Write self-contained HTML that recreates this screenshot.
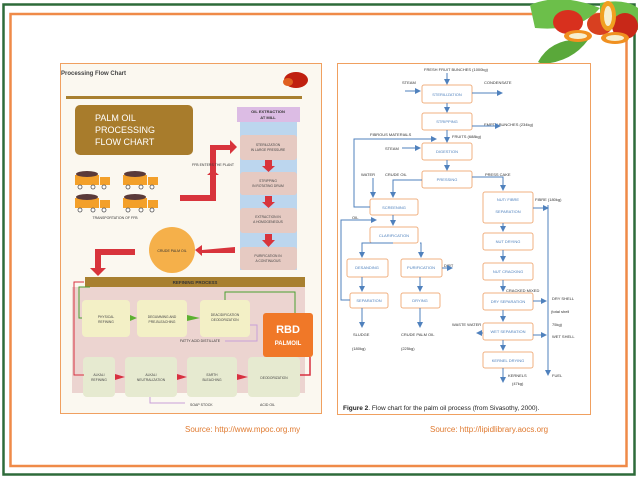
<!DOCTYPE html>
<html><head><meta charset="utf-8"><style>
html,body{margin:0;padding:0;background:#fff}
svg{display:block}
text{font-family:"Liberation Sans",sans-serif}
</style></head><body>
<svg width="638" height="479" viewBox="0 0 638 479" xmlns="http://www.w3.org/2000/svg">
<defs>
<marker id="ab" markerWidth="6" markerHeight="6" refX="5" refY="3" orient="auto"><path d="M0,0 L6,3 L0,6 z" fill="#4f81bd"/></marker>
</defs>
<rect x="3.5" y="4.5" width="631" height="470" fill="none" stroke="#2e6b3a" stroke-width="2.5"/>
<rect x="10.5" y="14" width="616" height="452" fill="none" stroke="#ef8a48" stroke-width="2.5"/>
<g>
<path d="M530 5 Q560 -8 600 8 Q580 32 535 28 z" fill="#6cbf4a"/>
<path d="M538 62 Q552 36 588 40 Q572 62 542 64 z" fill="#5aa83a"/>
<path d="M600 3 Q625 -2 638 8 L638 30 Q615 25 600 15 z" fill="#6cbf4a"/>
<ellipse cx="568" cy="22" rx="15" ry="12" fill="#d8301e"/>
<ellipse cx="600" cy="24" rx="13" ry="11" fill="#d84020"/>
<ellipse cx="625" cy="26" rx="13" ry="13" fill="#c82818"/>
<ellipse cx="608" cy="16" rx="8" ry="15" fill="#f0a020"/>
<ellipse cx="608" cy="16" rx="4" ry="10" fill="#f6efd0"/>
<ellipse cx="578" cy="36" rx="14" ry="6" fill="#f09020"/>
<ellipse cx="578" cy="36" rx="9" ry="3" fill="#f6efd0"/>
<ellipse cx="615" cy="38" rx="14" ry="6" fill="#f09020"/>
<ellipse cx="615" cy="38" rx="9" ry="3" fill="#f6efd0"/>
</g>

<!-- LEFT IMAGE -->
<rect x="60.5" y="63.5" width="261" height="350" fill="#fbf8f0" stroke="#f0a060" stroke-width="1"/>
<text x="61" y="75" font-size="6" font-family="Liberation Serif" font-weight="bold" fill="#444">Processing Flow Chart</text>
<ellipse cx="296" cy="80" rx="12" ry="8" fill="#c02010"/>
<ellipse cx="288" cy="82" rx="5" ry="4" fill="#e06020"/>
<rect x="66" y="96" width="236" height="3" fill="#a88030"/>
<rect x="75" y="105" width="118" height="50" rx="5" fill="#a87c2c"/>
<text x="95" y="121" font-size="9" fill="#fff">PALM OIL</text>
<text x="95" y="133" font-size="9" fill="#fff">PROCESSING</text>
<text x="95" y="145" font-size="9" fill="#fff">FLOW CHART</text>
<rect x="240" y="120" width="57" height="150" fill="#bcd6ee"/>
<rect x="237" y="107" width="63" height="15" fill="#dcbce4"/>
<text x="268" y="113" font-size="4" text-anchor="middle" font-weight="bold" fill="#333">OIL EXTRACTION</text>
<text x="268" y="119" font-size="4" text-anchor="middle" font-weight="bold" fill="#333">AT MILL</text>
<g fill="#e6cac2">
<rect x="240" y="135" width="57" height="25" rx="3"/>
<rect x="240" y="172" width="57" height="23" rx="3"/>
<rect x="240" y="208" width="57" height="25" rx="3"/>
<rect x="240" y="247" width="57" height="23" rx="3"/>
</g>
<g font-size="3.3" text-anchor="middle" fill="#444">
<text x="268" y="146">STERILIZATION</text><text x="268" y="151">IN LARGE PRESSURE</text>
<text x="268" y="182">STRIPPING</text><text x="268" y="187">IN ROTATING DRUM</text>
<text x="268" y="218">EXTRACTION IN</text><text x="268" y="223">A HOMOGENEOUS</text>
<text x="268" y="257">PURIFICATION IN</text><text x="268" y="262">A CONTINUOUS</text>
</g>
<g fill="#d8343c">
<rect x="265" y="160" width="7" height="6"/><path d="M262 166 L275 166 L268.5 172 z"/>
<rect x="265" y="196" width="7" height="6"/><path d="M262 202 L275 202 L268.5 208 z"/>
<rect x="265" y="234" width="7" height="7"/><path d="M262 240 L275 240 L268.5 247 z"/>
<path d="M180 195 L210 195 L210 175 L207 175 L213 170 L219 175 L216 175 L216 201 L180 201 z"/>
<path d="M210 150 L210 145 L230 145 L230 140 L237 147 L230 154 L230 150 z"/>
<rect x="210" y="145" width="6" height="30"/>
<path d="M202 250 L235 247 L235 253 L202 253 z"/>
<path d="M202 245 L195 250 L202 256 z"/>
<rect x="95" y="249" width="40" height="6"/>
<rect x="95" y="249" width="6" height="20"/>
<path d="M90 268 L106 268 L98 276 z"/>
</g>
<g fill="#f3a02a">
<rect x="75" y="175" width="24" height="10"/><rect x="100" y="177" width="10" height="8"/>
<rect x="123" y="175" width="24" height="10"/><rect x="148" y="177" width="10" height="8"/>
<rect x="75" y="198" width="24" height="10"/><rect x="100" y="200" width="10" height="8"/>
<rect x="123" y="198" width="24" height="10"/><rect x="148" y="200" width="10" height="8"/>
</g>
<g fill="#5a3a3a">
<ellipse cx="87" cy="174" rx="11" ry="3"/><ellipse cx="135" cy="174" rx="11" ry="3"/>
<ellipse cx="87" cy="197" rx="11" ry="3"/><ellipse cx="135" cy="197" rx="11" ry="3"/>
</g>
<g fill="#fff" stroke="#555" stroke-width="0.8">
<circle cx="80" cy="187" r="2"/><circle cx="93" cy="187" r="2"/><circle cx="104" cy="187" r="2"/>
<circle cx="128" cy="187" r="2"/><circle cx="141" cy="187" r="2"/><circle cx="152" cy="187" r="2"/>
<circle cx="80" cy="210" r="2"/><circle cx="93" cy="210" r="2"/><circle cx="104" cy="210" r="2"/>
<circle cx="128" cy="210" r="2"/><circle cx="141" cy="210" r="2"/><circle cx="152" cy="210" r="2"/>
</g>
<text x="115" y="219" font-size="3.5" text-anchor="middle" fill="#333">TRANSPORTATION OF FFB</text>
<text x="213" y="166" font-size="3.5" text-anchor="middle" fill="#333">FFB ENTERS THE PLANT</text>
<circle cx="172" cy="250" r="23" fill="#f5b04a"/>
<text x="172" y="252" font-size="3.5" text-anchor="middle" fill="#333">CRUDE PALM OIL</text>
<rect x="72" y="287" width="233" height="106" fill="#ecd4d0"/>
<rect x="85" y="277" width="220" height="10" fill="#a88030"/>
<text x="195" y="284" font-size="4.5" text-anchor="middle" font-weight="bold" fill="#333">REFINING PROCESS</text>
<g fill="#f3f0c6">
<rect x="82" y="300" width="48" height="37" rx="4"/>
<rect x="137" y="300" width="50" height="37" rx="4"/>
<rect x="200" y="300" width="50" height="37" rx="4"/>
</g>
<g fill="#e6ead0">
<rect x="83" y="357" width="32" height="40" rx="4"/>
<rect x="125" y="357" width="52" height="40" rx="4"/>
<rect x="187" y="357" width="50" height="40" rx="4"/>
<rect x="248" y="357" width="52" height="40" rx="4"/>
</g>
<g font-size="3.3" text-anchor="middle" fill="#444">
<text x="106" y="318">PHYSICAL</text><text x="106" y="323">REFINING</text>
<text x="162" y="318">DEGUMMING AND</text><text x="162" y="323">PRE-BLEACHING</text>
<text x="225" y="316">DEACIDIFICATION</text><text x="225" y="321">DEODORIZATION</text>
<text x="99" y="376">ALKALI</text><text x="99" y="381">REFINING</text>
<text x="151" y="376">ALKALI</text><text x="151" y="381">NEUTRALIZATION</text>
<text x="212" y="376">EARTH</text><text x="212" y="381">BLEACHING</text>
<text x="274" y="379">DEODORIZATION</text>
</g>
<rect x="263" y="313" width="50" height="44" rx="3" fill="#f07828"/>
<text x="288" y="333" font-size="11" font-weight="bold" text-anchor="middle" fill="#fff">RBD</text>
<text x="288" y="345" font-size="6" font-weight="bold" text-anchor="middle" fill="#fff">PALMOIL</text>
<text x="180" y="342" font-size="3.5" fill="#333">FATTY ACID DISTILLATE</text>
<text x="190" y="406" font-size="3.5" fill="#333">SOAP STOCK</text>
<text x="260" y="406" font-size="3.5" fill="#333">ACID OIL</text>
<polyline points="84,282 74,282 74,375 84,375" fill="none" stroke="#d83040" stroke-width="1"/>
<polyline points="90,287 79,287 79,318 82,318" fill="none" stroke="#4aa030" stroke-width="1"/>
<polyline points="225,300 225,292 295,292 295,313" fill="none" stroke="#4aa030" stroke-width="1"/>
<path d="M130 315 L137 318 L130 321 z M187 315 L200 318 L187 321 z" fill="#5cb030"/>
<path d="M115 374 L125 377 L115 380 z M177 374 L187 377 L177 380 z M237 374 L248 377 L237 380 z" fill="#d83040"/>
<polyline points="300,375 310,375 310,357" fill="none" stroke="#d83040" stroke-width="1.5"/>
<polyline points="250,325 257,325 257,341 225,341" fill="none" stroke="#c8a0d8" stroke-width="1"/>
<polyline points="150,397 150,403 185,403 M215,403 255,403" fill="none" stroke="#c8a0d8" stroke-width="1"/>

<!-- RIGHT IMAGE -->
<rect x="337.5" y="63.5" width="253" height="351" fill="#fff" stroke="#f0a060" stroke-width="1"/>
<g fill="#fff" stroke="#f0b080" stroke-width="1">
<rect x="422" y="85" width="50" height="18" rx="2"/>
<rect x="422" y="113" width="50" height="17" rx="2"/>
<rect x="422" y="143" width="50" height="17" rx="2"/>
<rect x="422" y="171" width="50" height="17" rx="2"/>
<rect x="370" y="199" width="48" height="16" rx="2"/>
<rect x="370" y="227" width="48" height="16" rx="2"/>
<rect x="347" y="259" width="41" height="18" rx="2"/>
<rect x="401" y="259" width="41" height="18" rx="2"/>
<rect x="350" y="293" width="38" height="15" rx="2"/>
<rect x="401" y="293" width="39" height="15" rx="2"/>
<rect x="483" y="192" width="50" height="31" rx="2"/>
<rect x="483" y="233" width="50" height="17" rx="2"/>
<rect x="483" y="263" width="50" height="17" rx="2"/>
<rect x="483" y="293" width="50" height="17" rx="2"/>
<rect x="483" y="323" width="50" height="17" rx="2"/>
<rect x="483" y="352" width="50" height="16" rx="2"/>
</g>
<g font-size="4" fill="#4f81bd" text-anchor="middle">
<text x="447" y="96">STERILIZATION</text>
<text x="447" y="123">STRIPPING</text>
<text x="447" y="153">DIGESTION</text>
<text x="447" y="181">PRESSING</text>
<text x="394" y="209">SCREENING</text>
<text x="394" y="237">CLARIFICATION</text>
<text x="367" y="269">DESANDING</text>
<text x="421" y="269">PURIFICATION</text>
<text x="369" y="302">SEPARATION</text>
<text x="420" y="302">DRYING</text>
<text x="508" y="201">NUT/ FIBRE</text>
<text x="508" y="213">SEPARATION</text>
<text x="508" y="243">NUT DRYING</text>
<text x="508" y="273">NUT CRACKING</text>
<text x="508" y="303">DRY SEPARATION</text>
<text x="508" y="333">WET SEPARATION</text>
<text x="508" y="362">KERNEL DRYING</text>
</g>
<g font-size="4" fill="#333">
<text x="424" y="71">FRESH FRUIT BUNCHES (1000kg)</text>
<text x="402" y="84">STEAM</text>
<text x="484" y="84">CONDENSATE</text>
<text x="484" y="126">EMPTY BUNCHES (234kg)</text>
<text x="452" y="138">FRUITS (688kg)</text>
<text x="370" y="136">FIBROUS MATERIALS</text>
<text x="385" y="150">STEAM</text>
<text x="361" y="176">WATER</text>
<text x="385" y="176">CRUDE OIL</text>
<text x="485" y="176">PRESS CAKE</text>
<text x="535" y="201">FIBRE (180kg)</text>
<text x="352" y="219">OIL</text>
<text x="444" y="267">DIRT</text>
<text x="506" y="292">CRACKED MIXED</text>
<text x="552" y="300">DRY SHELL</text>
<text x="551" y="313">(total shell</text>
<text x="552" y="326">75kg)</text>
<text x="552" y="338">WET SHELL</text>
<text x="452" y="326">WASTE WATER</text>
<text x="353" y="336">SLUDGE</text>
<text x="352" y="350">(180kg)</text>
<text x="401" y="336">CRUDE PALM OIL</text>
<text x="401" y="350">(225kg)</text>
<text x="508" y="377">KERNELS</text>
<text x="512" y="385">(47kg)</text>
<text x="552" y="377">FUEL</text>
</g>
<g stroke="#4f81bd" stroke-width="1" fill="none" marker-end="url(#ab)">
<line x1="447" y1="73" x2="447" y2="84"/>
<line x1="405" y1="91" x2="420" y2="91"/>
<line x1="472" y1="93" x2="502" y2="93"/>
<line x1="447" y1="103" x2="447" y2="112"/>
<line x1="472" y1="126" x2="500" y2="126"/>
<line x1="447" y1="130" x2="447" y2="142"/>
<line x1="402" y1="148" x2="420" y2="148"/>
<line x1="447" y1="160" x2="447" y2="170"/>
<polyline points="472,177 503,177 503,190"/>
<polyline points="422,180 393,180 393,197"/>
<line x1="373" y1="178" x2="373" y2="197"/>
<polyline points="370,207 354,207 354,139 436,139"/>
<line x1="393" y1="215" x2="393" y2="225"/>
<polyline points="393,243 362,243 362,257"/>
<polyline points="420,243 421,243 421,257"/>
<line x1="442" y1="268" x2="452" y2="268"/>
<line x1="362" y1="277" x2="362" y2="291"/>
<line x1="420" y1="277" x2="420" y2="291"/>
<polyline points="350,300 341,300 341,220 376,220"/>
<line x1="362" y1="308" x2="362" y2="327"/>
<line x1="420" y1="308" x2="420" y2="327"/>
<line x1="503" y1="223" x2="503" y2="231"/>
<line x1="503" y1="250" x2="503" y2="261"/>
<line x1="503" y1="280" x2="503" y2="291"/>
<line x1="503" y1="310" x2="503" y2="321"/>
<line x1="503" y1="340" x2="503" y2="350"/>
<line x1="503" y1="368" x2="503" y2="382"/>
<line x1="533" y1="208" x2="548" y2="208"/>
<line x1="548" y1="205" x2="548" y2="375"/>
<line x1="533" y1="301" x2="546" y2="301"/>
<line x1="533" y1="335" x2="546" y2="335"/>
<line x1="483" y1="333" x2="477" y2="333"/>
</g>
<text x="343" y="410" font-size="6.5" fill="#222"><tspan font-weight="bold">Figure 2</tspan>. Flow chart for the palm oil process (from Sivasothy, 2000).</text>

<text x="185" y="432" font-size="8" fill="#e07a30">Source: http://www.mpoc.org.my</text>
<text x="430" y="432" font-size="8" fill="#e07a30">Source: http://lipidlibrary.aocs.org</text>
</svg>
</body></html>
